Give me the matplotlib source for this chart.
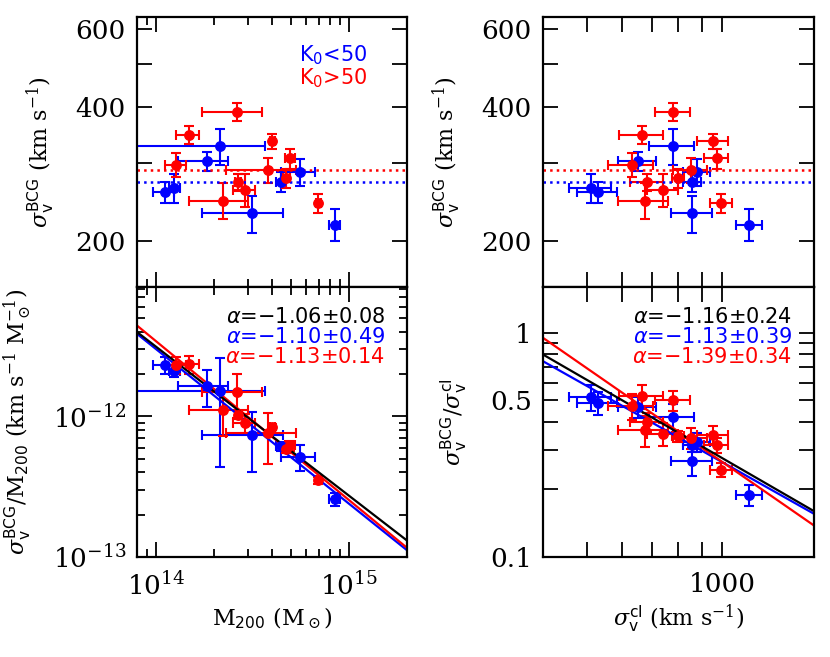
import numpy as np
import matplotlib.pyplot as plt
from matplotlib.ticker import FixedLocator, FixedFormatter, NullFormatter

plt.rcParams['font.family'] = 'DejaVu Serif'
plt.rcParams['mathtext.fontset'] = 'dejavuserif'
plt.rcParams['axes.linewidth'] = 1.6

# K0 < 50 clusters (blue)
m200_b = np.array([1.11, 1.25, 1.84, 2.16, 3.14, 4.45, 5.57, 8.44]) * 1e14
m200_b_err = np.array([0.14, 0.08, 0.54, 1.52, 1.40, 0.25, 1.10, 0.55]) * 1e14
sigcl_b = np.array([530, 511, 651, 778, 859, 859, 880, 1149])
sigcl_b_err = np.array([55, 55, 63, 90, 90, 40, 60, 77])
sigbcg_b = np.array([258, 264, 303, 327, 231, 272, 286, 218])
sigbcg_b_err = np.array([14, 20, 15, 30, 22, 14, 20, 18])

# K0 > 50 clusters (red)
m200_r = np.array([2.63, 1.48, 1.28, 4.02, 4.95, 3.82, 4.75, 2.66, 2.90, 2.24, 6.95]) * 1e14
m200_r_err = np.array([0.90, 0.20, 0.16, 0.12, 0.30, 1.50, 0.20, 0.10, 0.38, 0.75, 0.20]) * 1e14
sigcl_r = np.array([779, 664, 631, 956, 973, 852, 799, 681, 740, 673, 996])
sigcl_r_err = np.array([70, 75, 72, 75, 60, 73, 25, 58, 60, 85, 57])
sigbcg_r = np.array([390, 347, 297, 336, 307, 289, 277, 272, 261, 247, 244])
sigbcg_r_err = np.array([18, 17, 18, 13, 16, 18, 13, 12, 22, 23, 12])

# median sigma_BCG (dotted lines)
med_b = 272
med_r = 289

# power-law fits: slope, normalisation at pivot
pivot_m = 4e14
pivot_s = 794.0
fits_m = {'k': (-1.06, 7.21e-13), 'b': (-1.10, 6.56e-13), 'r': (-1.13, 7.16e-13)}
fits_s = {'k': (-1.16, 0.361), 'b': (-1.13, 0.344), 'r': (-1.39, 0.366)}
labels_m = {'k': '$\\alpha$=\u22121.06\u00b10.08', 'b': '$\\alpha$=\u22121.10\u00b10.49',
            'r': '$\\alpha$=\u22121.13\u00b10.14'}
labels_s = {'k': '$\\alpha$=\u22121.16\u00b10.24', 'b': '$\\alpha$=\u22121.13\u00b10.39',
            'r': '$\\alpha$=\u22121.39\u00b10.34'}

xlim_m = (8e13, 2e15)
xlim_s = (400, 1600)

fig = plt.figure(figsize=(8.3, 6.57), dpi=100)
ax_tl = fig.add_axes([0.1651, 0.5632, 0.3253, 0.4110])
ax_bl = fig.add_axes([0.1651, 0.1522, 0.3253, 0.4110])
ax_tr = fig.add_axes([0.6542, 0.5632, 0.3265, 0.4110])
ax_br = fig.add_axes([0.6542, 0.1522, 0.3265, 0.4110])

eb = dict(fmt='o', ms=6.8, capsize=3.5, elinewidth=1.5, capthick=1.5)


def ratio_err(num, num_e, den, den_e):
    r = num / den
    return r, r * np.sqrt((num_e / num) ** 2 + (den_e / den) ** 2)


for ax, xb, xbe, xr, xre in [(ax_tl, m200_b, m200_b_err, m200_r, m200_r_err),
                             (ax_tr, sigcl_b, sigcl_b_err, sigcl_r, sigcl_r_err)]:
    ax.errorbar(xb, sigbcg_b, xerr=xbe, yerr=sigbcg_b_err, color='blue', **eb)
    ax.errorbar(xr, sigbcg_r, xerr=xre, yerr=sigbcg_r_err, color='red', **eb)
    ax.axhline(med_r, color='red', ls=':', lw=1.8)
    ax.axhline(med_b, color='blue', ls=':', lw=1.8)

# bottom left: sigma_BCG / M200
rb, rbe = ratio_err(sigbcg_b, sigbcg_b_err, m200_b, m200_b_err)
rr, rre = ratio_err(sigbcg_r, sigbcg_r_err, m200_r, m200_r_err)
ax_bl.errorbar(m200_b, rb, xerr=m200_b_err, yerr=rbe, color='blue', **eb)
ax_bl.errorbar(m200_r, rr, xerr=m200_r_err, yerr=rre, color='red', **eb)
xx = np.array(xlim_m)
for c, col in [('b', 'blue'), ('r', 'red'), ('k', 'black')]:
    a, n = fits_m[c]
    ax_bl.plot(xx, n * (xx / pivot_m) ** a, color=col, lw=1.6)

# bottom right: sigma_BCG / sigma_cl
sb, sbe = ratio_err(sigbcg_b, sigbcg_b_err, sigcl_b, sigcl_b_err)
sr, sre = ratio_err(sigbcg_r, sigbcg_r_err, sigcl_r, sigcl_r_err)
ax_br.errorbar(sigcl_b, sb, xerr=sigcl_b_err, yerr=sbe, color='blue', **eb)
ax_br.errorbar(sigcl_r, sr, xerr=sigcl_r_err, yerr=sre, color='red', **eb)
xs = np.array(xlim_s, dtype=float)
for c, col in [('b', 'blue'), ('r', 'red'), ('k', 'black')]:
    a, n = fits_s[c]
    ax_br.plot(xs, n * (xs / pivot_s) ** a, color=col, lw=1.6)

# alpha labels
for ax, labs in [(ax_bl, labels_m), (ax_br, labels_s)]:
    for i, (c, col) in enumerate([('k', 'black'), ('b', 'blue'), ('r', 'red')]):
        ax.text(0.92, 0.887 - i * 0.074, labs[c], color=col, ha='right', va='center',
                transform=ax.transAxes, fontsize=15, family='DejaVu Sans',
                math_fontfamily='dejavusans')

ax_tl.text(0.60, 0.86, r'K$_0$<50', color='blue', transform=ax_tl.transAxes,
           fontsize=15, family='DejaVu Sans', math_fontfamily='dejavusans', va='center')
ax_tl.text(0.60, 0.775, r'K$_0$>50', color='red', transform=ax_tl.transAxes,
           fontsize=15, family='DejaVu Sans', math_fontfamily='dejavusans', va='center')

# axes scales, limits and ticks
for ax in [ax_tl, ax_bl, ax_tr, ax_br]:
    ax.set_xscale('log')
    ax.set_yscale('log')
    ax.tick_params(which='both', direction='in', top=True, right=True, width=1.3,
                   labelsize=19, pad=8)
    ax.tick_params(axis='x', pad=11)
    ax.tick_params(which='major', length=11)
    ax.tick_params(which='minor', length=5.5)

for ax in [ax_tl, ax_bl]:
    ax.set_xlim(*xlim_m)
    ax.xaxis.set_major_locator(FixedLocator([1e14, 1e15]))
    ax.xaxis.set_major_formatter(FixedFormatter([r'$10^{14}$', r'$10^{15}$']))
    ax.xaxis.set_minor_locator(FixedLocator([9e13] + [k * 1e14 for k in range(2, 10)] + [2e15]))
    ax.xaxis.set_minor_formatter(NullFormatter())

for ax in [ax_tr, ax_br]:
    ax.set_xlim(*xlim_s)
    ax.xaxis.set_major_locator(FixedLocator([500, 600, 700, 800, 900, 1000]))
    ax.xaxis.set_major_formatter(FixedFormatter(['', '', '', '', '', '1000']))
    ax.xaxis.set_minor_locator(FixedLocator([]))

for ax in [ax_tl, ax_tr]:
    ax.set_ylim(158, 638)
    ax.yaxis.set_major_locator(FixedLocator([200, 300, 400, 500, 600]))
    ax.yaxis.set_major_formatter(FixedFormatter(['200', '', '400', '', '600']))
    ax.yaxis.set_minor_locator(FixedLocator([]))
    ax.tick_params(axis='x', labelbottom=False)

ax_bl.set_ylim(1e-13, 8.3e-12)
ax_bl.yaxis.set_major_locator(FixedLocator([1e-13, 1e-12]))
ax_bl.yaxis.set_major_formatter(FixedFormatter([r'$10^{-13}$', r'$10^{-12}$']))
ax_bl.yaxis.set_minor_locator(FixedLocator([k * 1e-13 for k in range(2, 10)] +
                                           [k * 1e-12 for k in range(2, 9)]))
ax_bl.yaxis.set_minor_formatter(NullFormatter())

ax_br.set_ylim(0.1, 1.6)
ax_br.yaxis.set_major_locator(FixedLocator([0.1, 0.2, 0.3, 0.4, 0.5, 0.6, 0.7, 0.8, 0.9, 1.0]))
ax_br.yaxis.set_major_formatter(FixedFormatter(['0.1', '', '', '', '0.5', '', '', '', '', '1']))
ax_br.yaxis.set_minor_locator(FixedLocator([]))

# axis labels
sig_bcg = r'\sigma_{\mathsf{v}}^{\mathsf{BCG}}'
ylab_top = '$' + sig_bcg + r'$ (km s$^{-1}$)'
ax_tl.set_ylabel(ylab_top, fontsize=16)
ax_tr.set_ylabel(ylab_top, fontsize=16)
ax_bl.set_ylabel('$' + sig_bcg + r'/{\rm M}_{\mathsf{200}}$ (km s$^{-1}$ M$_\odot^{-1}$)', fontsize=16)
ax_br.set_ylabel('$' + sig_bcg + r'/\sigma_{\mathsf{v}}^{\mathsf{cl}}$', fontsize=16)
ax_tl.yaxis.set_label_coords(-0.296, 0.5)
ax_bl.yaxis.set_label_coords(-0.381, 0.5)
ax_tr.yaxis.set_label_coords(-0.295, 0.5)
ax_br.yaxis.set_label_coords(-0.27, 0.5)

ax_bl.set_xlabel(r'M$_{\mathsf{200}}$ (M$_\odot$)', fontsize=16)
ax_br.set_xlabel(r'$\sigma_{\mathsf{v}}^{\mathsf{cl}}$ (km s$^{-1}$)', fontsize=16)

plt.savefig('out.png', dpi=100)
plt.close()
